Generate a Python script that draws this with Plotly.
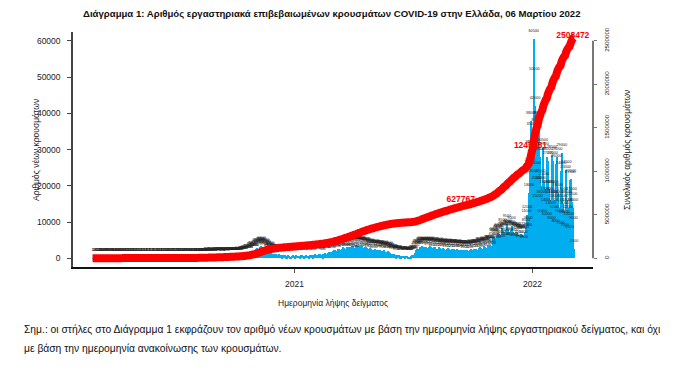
import numpy as np
import pandas as pd
import plotly.graph_objects as go

# ---------------- data (daily new cases by sampling date) ----------------
start_date = "2020-02-26"

cases_2020_02 = [1, 2, 0, 4]
cases_2020_03 = [3, 8, 2, 10, 12, 18, 25, 30, 15, 20, 35, 40, 52, 60, 45, 30, 55, 70, 80, 85,
                 75, 50, 60, 95, 80, 78, 71, 55, 40, 60, 55]
cases_2020_04 = [60, 45, 70, 90, 40, 30, 40, 35, 50, 40, 30, 25, 20, 30, 25, 35, 40, 25, 15, 20,
                 30, 25, 15, 12, 20, 18, 15, 10, 20, 15]
cases_2020_05 = [10, 12, 8, 15, 20, 10, 5, 12, 15, 10, 8, 10, 12, 15, 5, 10, 12, 20, 8, 10,
                 15, 12, 5, 8, 10, 12, 15, 10, 8, 5, 12]
cases_2020_06 = [10, 12, 15, 8, 10, 20, 10, 12, 15, 10, 8, 12, 10, 20, 25, 15, 12, 10, 18, 20,
                 30, 25, 20, 15, 12, 18, 20, 25, 15, 10]
cases_2020_07 = [12, 15, 20, 25, 18, 20, 30, 25, 20, 30, 35, 25, 20, 30, 28, 35, 40, 25, 30, 35,
                 40, 45, 30, 38, 40, 55, 50, 45, 60, 55, 50]
cases_2020_08 = [70, 60, 80, 110, 90, 120, 150, 130, 110, 160, 200, 180, 150, 210, 230, 200, 130, 220, 250, 240,
                 230, 210, 160, 250, 290, 230, 240, 200, 150, 220, 260]
cases_2020_09 = [170, 260, 290, 300, 250, 180, 250, 320, 330, 280, 270, 200, 180, 300, 330, 340, 300, 250, 210, 300,
                 350, 380, 340, 290, 260, 240, 350, 390, 400, 420]
cases_2020_10 = [430, 330, 280, 420, 480, 500, 520, 480, 420, 380, 600, 700, 720, 750, 800, 650, 560, 900, 1000, 1100,
                 1200, 1300, 1000, 900, 1400, 1700, 1800, 1900, 1900, 1600, 1400]
cases_2020_11 = [1600, 2300, 2600, 2800, 2900, 2600, 2100, 2200, 3000, 3200, 3300, 3000, 2800, 2200, 1700, 2600, 2900, 2700, 2300, 2000,
                 1600, 1200, 1800, 1900, 1700, 1500, 1300, 1000, 800, 1200]
cases_2020_12 = [1300, 1200, 1100, 1000, 800, 600, 900, 1100, 1000, 900, 850, 700, 500, 800, 900, 850, 800, 700, 500, 400,
                 650, 800, 750, 600, 400, 250, 450, 700, 800, 800, 600]
cases_2021_01 = [350, 450, 700, 800, 750, 700, 650, 550, 400, 700, 850, 800, 750, 700, 600, 450, 650, 800, 700, 650,
                 600, 550, 400, 700, 850, 900, 850, 800, 650, 500, 900]
cases_2021_02 = [1100, 1000, 950, 900, 800, 600, 1000, 1200, 1100, 1000, 900, 700, 500, 1100, 1300, 1400, 1500, 1300, 1000, 800,
                 1400, 1600, 1700, 1800, 1600, 1200, 1000, 1700]
cases_2021_03 = [2000, 2300, 2400, 2300, 2000, 1500, 1300, 2400, 2600, 2700, 2600, 2300, 1700, 1400, 2700, 3000, 3100, 2900, 2600, 1800,
                 1500, 2800, 3100, 3200, 3000, 2500, 1800, 1400, 3000, 3300, 3500]
cases_2021_04 = [3300, 2800, 2000, 1300, 3400, 3600, 3500, 3300, 3000, 2200, 1600, 3300, 3500, 3400, 3200, 2900, 2100, 1500, 3000, 3200,
                 3100, 2800, 2500, 1800, 1300, 2600, 2800, 2700, 2400, 2200]
cases_2021_05 = [1700, 1000, 2300, 2600, 2500, 2400, 2200, 1600, 1100, 2200, 2400, 2300, 2100, 1900, 1400, 900, 2000, 2200, 2100, 1800,
                 1700, 1200, 800, 1700, 1900, 1700, 1600, 1400, 1000, 700, 1300]
cases_2021_06 = [1200, 1100, 1000, 900, 700, 500, 900, 1000, 900, 800, 700, 500, 350, 700, 750, 700, 600, 550, 400, 300,
                 550, 600, 550, 500, 450, 350, 250, 500, 650, 750]
cases_2021_07 = [900, 1000, 900, 700, 1500, 2000, 2200, 2500, 2700, 2400, 1900, 2800, 3000, 3200, 3400, 3100, 2500, 1900, 3000, 3100,
                 3200, 3000, 2800, 2300, 1700, 3000, 3200, 3300, 3100, 2900, 2200]
cases_2021_08 = [1600, 2800, 3000, 3100, 2900, 2700, 2100, 1500, 2700, 2900, 3000, 2800, 2600, 2000, 1400, 2600, 2800, 2700, 2600, 2400,
                 1800, 1300, 2600, 2800, 2700, 2600, 2400, 1800, 1200, 2500, 2700]
cases_2021_09 = [2600, 2500, 2300, 1700, 1100, 2400, 2600, 2500, 2400, 2200, 1600, 1100, 2300, 2400, 2300, 2200, 2000, 1500, 1000, 2200,
                 2300, 2200, 2100, 1900, 1400, 1000, 2200, 2400, 2500, 2300]
cases_2021_10 = [2200, 1700, 1200, 2600, 2700, 2600, 2500, 2400, 1800, 1300, 2900, 3100, 3000, 2800, 2600, 2000, 1500, 3200, 3300, 3200,
                 3100, 2900, 2300, 1700, 3600, 3800, 3700, 3600, 3400, 2600, 1900]
cases_2021_11 = [4500, 5500, 5800, 5600, 5400, 4500, 3600, 6400, 6800, 6900, 6700, 6300, 5000, 4000, 7200, 8500, 7500, 7300, 6900, 5600,
                 4500, 7800, 9500, 8200, 7800, 7300, 5900, 4600, 7900, 9000]
cases_2021_12 = [7600, 7300, 6900, 5500, 4300, 7000, 7400, 7200, 6800, 6300, 5000, 3900, 6500, 6800, 6600, 6400, 6200, 5000, 3800, 6500,
                 7200, 8500, 11000, 12000, 7000, 9000, 18000, 25000, 30000, 38000, 35000]
cases_2022_01 = [22000, 30000, 60500, 50000, 42000, 24000, 36000, 20000, 15000, 38000, 36800, 28000, 22000, 20000, 16000, 11000,
                 30500, 29500, 21000, 19000, 17000, 14000, 10000, 28000, 27000, 19000, 17000, 16000, 13000, 9000, 28500]
cases_2022_02 = [27000, 19000, 16000, 15000, 12000, 8000, 26000, 28000, 18000, 16000, 14000, 11000, 7500, 24000, 29000, 17000,
                 15000, 13000, 10500, 7000, 23000, 24500, 16000, 14000, 12000, 10000, 6500, 21500]
cases_2022_03 = [22000, 17000, 15500, 14000, 9000, 2500]

months = [cases_2020_02, cases_2020_03, cases_2020_04, cases_2020_05, cases_2020_06, cases_2020_07,
          cases_2020_08, cases_2020_09, cases_2020_10, cases_2020_11, cases_2020_12,
          cases_2021_01, cases_2021_02, cases_2021_03, cases_2021_04, cases_2021_05, cases_2021_06,
          cases_2021_07, cases_2021_08, cases_2021_09, cases_2021_10, cases_2021_11, cases_2021_12,
          cases_2022_01, cases_2022_02, cases_2022_03]

# labelled cumulative totals
label_dates = ["2021-09-13", "2021-12-29", "2022-03-04"]
label_values = [627767, 1245781, 2508472]

# axis ticks
x_tick_vals = ["2021-01-01", "2022-01-01"]
x_tick_text = ["2021", "2022"]
y_left_ticks = [0, 10000, 20000, 30000, 40000, 50000, 60000]
y_right_ticks = [0, 500000, 1000000, 1500000, 2000000, 2500000]

title_text = "Διάγραμμα 1: Αριθμός εργαστηριακά επιβεβαιωμένων κρουσμάτων COVID-19 στην Ελλάδα, 06 Μαρτίου 2022"
x_title = "Ημερομηνία λήψης δείγματος"
y_left_title = "Αριθμός νέων κρουσμάτων"
y_right_title = "Συνολικός αριθμός κρουσμάτων"
note_line1 = ("Σημ.: οι στήλες στο Διάγραμμα 1 εκφράζουν τον αριθμό νέων κρουσμάτων με βάση την ημερομηνία "
              "λήψης εργαστηριακού δείγματος, και όχι")
note_line2 = "με βάση την ημερομηνία ανακοίνωσης των κρουσμάτων."

# ---------------- derived ----------------
daily = np.concatenate([np.array(m, dtype=float) for m in months])
dates = pd.date_range(start_date, periods=len(daily), freq="D")
cumulative = np.cumsum(daily)

REG = "Liberation Sans, Arial, sans-serif"
BLUE = "#00AEEF"
RED = "#FF0000"

fig = go.Figure()

fig.add_trace(go.Bar(
    x=dates, y=daily, marker=dict(color=BLUE, line=dict(width=0)),
    width=86400000 * 1.6, hoverinfo="skip", showlegend=False,
))

fig.add_trace(go.Scatter(
    x=dates, y=daily, mode="markers+text", text=[str(int(v)) for v in daily],
    marker=dict(size=8, color="rgba(0,0,0,0)"),
    textposition="top center", textfont=dict(size=3.8, color="#222222", family=REG),
    hoverinfo="skip", showlegend=False, cliponaxis=False,
))

fig.add_trace(go.Scatter(
    x=pd.to_datetime(label_dates), y=label_values, mode="text", yaxis="y2",
    text=[str(v) for v in label_values], textposition="top center",
    textfont=dict(size=8.5, color=RED, family=REG, weight="bold"),
    hoverinfo="skip", showlegend=False, cliponaxis=False,
))

fig.add_trace(go.Scatter(
    x=dates, y=cumulative, mode="lines", yaxis="y2",
    line=dict(color=RED, width=8, simplify=False), hoverinfo="skip", showlegend=False,
))

L, R, T, B = 73, 102, 32, 121
W, H = 695, 388
pw, ph = W - L - R, H - T - B


def px(X):
    return (X - L) / pw


def py(Y):
    return (H - B - Y) / ph


fig.update_layout(
    width=W, height=H, margin=dict(l=L, r=R, t=T, b=B, pad=0),
    paper_bgcolor="white", plot_bgcolor="white", bargap=0,
    xaxis=dict(
        type="date", range=["2020-01-27", "2022-04-04"],
        tickvals=x_tick_vals, ticktext=x_tick_text,
        ticks="outside", ticklen=4, tickwidth=1, tickcolor="#555",
        showline=True, linecolor="#111", linewidth=1.5,
        showgrid=False, zeroline=False, ticklabelstandoff=4,
        tickfont=dict(size=8.5, color="#222", family=REG),
    ),
    yaxis=dict(
        range=[-2400, 62480], tickvals=y_left_ticks,
        ticktext=[str(v) for v in y_left_ticks],
        ticks="outside", ticklen=4, tickwidth=1, tickcolor="#444",
        showline=True, linecolor="#444", linewidth=1.5,
        showgrid=False, zeroline=False, ticklabelstandoff=5,
        tickfont=dict(size=8.5, color="#222", family=REG),
    ),
    yaxis2=dict(
        overlaying="y", side="right", range=[-100000, 2600000],
        tickvals=y_right_ticks, ticktext=[str(v) for v in y_right_ticks],
        ticks="outside", ticklen=3, tickwidth=1, tickcolor="#777",
        tickangle=-90, showline=False, showgrid=False, zeroline=False,
        ticklabelstandoff=5,
        tickfont=dict(size=6.2, color="#222", family=REG),
    ),
    shapes=[dict(type="line", xref="paper", x0=1, x1=1, yref="y2", y0=0, y1=2500000,
                 line=dict(color="#777", width=2))],
    annotations=[
        dict(text=f"<b>{title_text}</b>", x=px(332), y=py(13), xref="paper", yref="paper",
             showarrow=False, xanchor="center", yanchor="middle",
             font=dict(size=9.6, color="#111", family=REG)),
        dict(text=x_title, x=px(333), y=py(303), xref="paper", yref="paper",
             showarrow=False, xanchor="center", yanchor="middle",
             font=dict(size=8.5, color="#222", family=REG)),
        dict(text=y_left_title, x=px(36), y=py(150), xref="paper", yref="paper",
             showarrow=False, xanchor="center", yanchor="middle", textangle=-90,
             font=dict(size=8.5, color="#222", family=REG)),
        dict(text=y_right_title, x=px(627), y=py(150), xref="paper", yref="paper",
             showarrow=False, xanchor="center", yanchor="middle", textangle=-90,
             font=dict(size=8.5, color="#222", family=REG)),
        dict(text=note_line1, x=px(22), y=py(329), xref="paper", yref="paper",
             showarrow=False, xanchor="left", yanchor="middle",
             font=dict(size=10.3, color="#111", family=REG)),
        dict(text=note_line2, x=px(22), y=py(348), xref="paper", yref="paper",
             showarrow=False, xanchor="left", yanchor="middle",
             font=dict(size=10.3, color="#111", family=REG)),
    ],
)

fig.write_html("out.html", config={"displayModeBar": False},
               post_script="document.body.style.margin='0px';")
